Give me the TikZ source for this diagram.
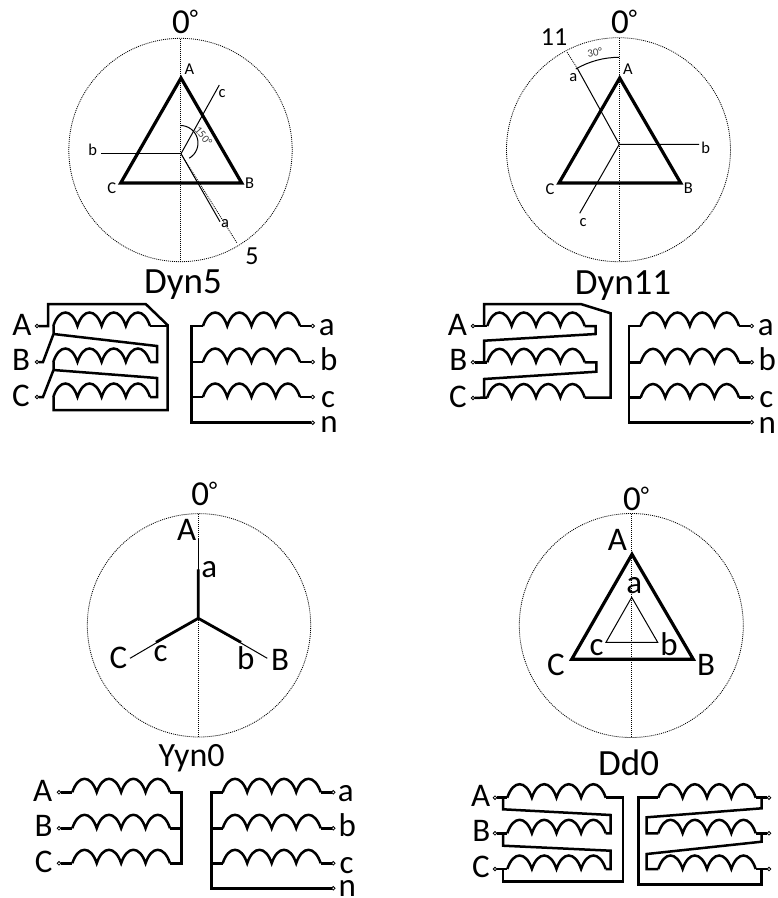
\documentclass[tikz,border=0pt]{standalone}
\usepackage{fontspec}
\setmainfont{Carlito}
\newcommand{\degz}{0\raisebox{7pt}{\fontsize{24}{24}\selectfont°}}
\tikzset{
  x=1pt,y=-1pt,
  lab/.style={anchor=base,inner sep=0pt,outer sep=0pt},
  big/.style={lab,font=\fontsize{33}{34}\selectfont},
  ttl/.style={lab,font=\fontsize{37}{38}\selectfont},
  ttlb/.style={lab,font=\fontsize{34}{36}\selectfont},
  zer/.style={lab,font=\fontsize{35}{36}\selectfont},
  num/.style={lab,font=\fontsize{26}{28}\selectfont},
  sml/.style={lab,font=\fontsize{16.5}{18}\selectfont},
  tin/.style={lab,font=\fontsize{11}{12}\selectfont,text=black!75},
  term/.style={circle,draw=black,fill=white,line width=0.8pt,minimum size=3.6pt,inner sep=0pt,outer sep=0pt},
  wire/.style={line width=2.5pt,line join=miter,line cap=butt},
  coilw/.style={line width=2.5pt,line join=miter},
  dots/.style={line width=0.8pt,dash pattern=on 1pt off 1pt,draw=black},
  thin1/.style={line width=1pt,draw=black},
  thick3/.style={line width=3.2pt,line join=miter},
  thick2/.style={line width=2.8pt,line cap=butt}
}
\newcommand{\coil}[3]{%
  \pgfmathsetmacro{\cw}{(#2-#1)/4}%
  \pgfmathsetmacro{\cxa}{#1}\pgfmathsetmacro{\cxb}{#1+\cw}\pgfmathsetmacro{\cxc}{#1+2*\cw}\pgfmathsetmacro{\cxd}{#1+3*\cw}\pgfmathsetmacro{\cxe}{#2}%
  \pgfmathsetmacro{\ct}{#3-18}%
  \draw[coilw] (\cxa,#3)
   .. controls (\cxa+0.24*\cw,\ct) and (\cxb-0.24*\cw,\ct) .. (\cxb,#3)
   .. controls (\cxb+0.24*\cw,\ct) and (\cxc-0.24*\cw,\ct) .. (\cxc,#3)
   .. controls (\cxc+0.24*\cw,\ct) and (\cxd-0.24*\cw,\ct) .. (\cxd,#3)
   .. controls (\cxd+0.24*\cw,\ct) and (\cxe-0.24*\cw,\ct) .. (\cxe,#3);%
}
\begin{document}
\begin{tikzpicture}
\useasboundingbox (0,0) rectangle (778,898);
% ===== Dyn5 phasor
\coordinate (c1) at (180.5,150);
\draw[dots] (c1) circle[radius=111.7pt];
\coordinate (c1t) at (180.5,38.5); \coordinate (c1b) at (180.5,261);
\draw[dots] (c1t) -- (c1b);
\coordinate (t1A) at (181,78); \coordinate (t1B) at (241.7,183); \coordinate (t1C) at (120.7,183);
\draw[thick3] (t1A) -- (t1B) -- (t1C) -- cycle;
\coordinate (o1) at (181,153.7);
\coordinate (o1a) at (220,221.7); \coordinate (o1b) at (101,153.7); \coordinate (o1c) at (219.3,85); \coordinate (o1five) at (237,243);
\draw[thin1] (o1a) -- (o1) -- (o1c); \draw[thin1] (o1) -- (o1b);
\draw[dots] (o1) -- (o1five);
\draw[thin1] (180.5,125.5) .. controls (188.4,125.5) and (195.35,130.85) .. (197.4,138.5)
  .. controls (199.45,146.15) and (196.1,154.2) .. (189.25,158.2);
\node[tin,anchor=center,rotate=-50] (ang1) at (203.5,136) {150°};
\node[zer] (z1) at (185,33.5) {\degz};
\node[sml] (l1A) at (189.5,74.5) {A};
\node[sml] (l1B) at (249.7,188) {B};
\node[sml] (l1C) at (111.7,193.5) {C};
\node[sml] (l1a) at (225,227) {a};
\node[sml] (l1b) at (92.7,155) {b};
\node[sml] (l1c) at (222,97.5) {c};
\node[num] (n5) at (252,264.5) {5};
% ===== Dyn5 windings
\node[ttl] (T1) at (183,293.5) {Dyn5};
\node[term] (a1) at (37,326) {}; \node[term] (b1) at (37,362) {}; \node[term] (c1w) at (37,397) {};
\node[term] (x1a) at (312.7,326) {}; \node[term] (x1b) at (312.7,362) {}; \node[term] (x1c) at (312.7,397) {}; \node[term] (x1n) at (312.7,422.7) {};
\coil{53.3}{150}{326}\coil{53.3}{150}{362}\coil{53.3}{150}{397}
\coil{203}{300}{326}\coil{203}{300}{362}\coil{203}{300}{397}
\draw[wire] (a1) -- (48,326) -- (48,304) -- (145.7,304) -- (167.5,325) -- (167.5,410) -- (53.5,410) -- (53.5,397);
\draw[wire] (150,326) -- (167.5,326);
\draw[wire] (53.5,326) -- (53.5,334) -- (157,346) -- (157,362) -- (150,362);
\draw[wire] (b1) -- (43,362) -- (53.5,334);
\draw[wire] (53.5,362) -- (53.5,370) -- (157,378) -- (157,397) -- (150,397);
\draw[wire] (c1w) -- (43,397) -- (53.5,370);
\draw[wire] (x1n) -- (191.7,422.7) -- (191.7,326) -- (203,326);
\draw[wire] (191.7,362) -- (203,362); \draw[wire] (191.7,397) -- (203,397);
\draw[wire] (300,326) -- (x1a); \draw[wire] (300,362) -- (x1b); \draw[wire] (300,397) -- (x1c);
\node[big] (w1A) at (22,335.7) {A}; \node[big] (w1B) at (21,370) {B}; \node[big] (w1C) at (21,406.7) {C};
\node[big] (w1a) at (326.7,335.7) {a}; \node[big] (w1b) at (328.7,370) {b}; \node[big] (w1c) at (328,407) {c}; \node[big] (w1n) at (329,432.3) {n};
% ===== Dyn11 phasor
\coordinate (c2) at (618.5,149.7);
\draw[dots] (c2) circle[radius=112pt];
\coordinate (c2t) at (619,38); \coordinate (c2b) at (619,261);
\draw[dots] (c2t) -- (c2b);
\coordinate (t2A) at (619.7,78); \coordinate (t2B) at (680.7,183); \coordinate (t2C) at (559,183);
\draw[thick3] (t2A) -- (t2B) -- (t2C) -- cycle;
\coordinate (o2) at (619.3,144.3);
\coordinate (o2a) at (577.3,68.3); \coordinate (o2b) at (699,144.3); \coordinate (o2c) at (579.7,213.3); \coordinate (o2e) at (566.7,51.7);
\draw[thin1] (o2a) -- (o2) -- (o2b); \draw[thin1] (o2) -- (o2c);
\draw[dots] (o2a) -- (o2e);
\draw[thin1] (619,57.3) .. controls (604,57.3) and (589,61.35) .. (575.8,69);
\node[tin,anchor=center,rotate=10] (ang2) at (594.7,52.3) {30°};
\node[zer] (z2) at (624,33.5) {\degz};
\node[num] (n11) at (554,45.7) {11};
\node[sml] (l2A) at (628,74.5) {A};
\node[sml] (l2B) at (688.3,193.5) {B};
\node[sml] (l2C) at (550,194) {C};
\node[sml] (l2a) at (573.3,81) {a};
\node[sml] (l2b) at (705.7,153) {b};
\node[sml] (l2c) at (583,226) {c};
% ===== Dyn11 windings
\node[ttl] (T2) at (623,294) {Dyn11};
\node[term] (a2) at (473,326) {}; \node[term] (b2) at (473,362.3) {}; \node[term] (c2w) at (473,398) {};
\node[term] (x2a) at (751.7,326) {}; \node[term] (x2b) at (751.7,362.3) {}; \node[term] (x2c) at (751.7,397.5) {}; \node[term] (x2n) at (751.7,422.3) {};
\coil{487.3}{584.7}{326}\coil{487.3}{584.7}{362.3}\coil{487.3}{584.7}{397.5}
\coil{640.7}{739}{326}\coil{640.7}{739}{362.3}\coil{640.7}{739}{397.5}
\draw[wire] (a2) -- (487.3,326);
\draw[wire] (484,326) -- (484,304) -- (580.7,304) -- (610.7,313.3) -- (610.7,397.5) -- (584.7,397.5);
\draw[wire] (584.7,326) -- (595.7,326) -- (595.7,334) -- (484,340.7) -- (484,362.3);
\draw[wire] (b2) -- (487.3,362.3);
\draw[wire] (584.7,362.3) -- (596.3,362.3) -- (596.3,371.7) -- (484,379) -- (484,397.5);
\draw[wire] (c2w) -- (487.3,397.5);
\draw[wire] (x2n) -- (629,422.3) -- (629,326) -- (640.7,326);
\draw[wire] (629,362.3) -- (640.7,362.3); \draw[wire] (629,397.5) -- (640.7,397.5);
\draw[wire] (739,326) -- (x2a); \draw[wire] (739,362.3) -- (x2b); \draw[wire] (739,397.5) -- (x2c);
\node[big] (w2A) at (457.3,335.7) {A}; \node[big] (w2B) at (458.3,370) {B}; \node[big] (w2C) at (458,407) {C};
\node[big] (w2a) at (765.7,335.7) {a}; \node[big] (w2b) at (767.3,370) {b}; \node[big] (w2c) at (766.3,407) {c}; \node[big] (w2n) at (767.3,433.3) {n};
% ===== Yyn0 phasor
\coordinate (c3) at (199,625.3);
\draw[dots] (c3) circle[radius=111.7pt];
\coordinate (c3t) at (198.3,514); \coordinate (c3b) at (198.3,737);
\draw[dots] (c3t) -- (c3b);
\coordinate (o3) at (198.3,618.3);
\coordinate (o3A) at (198.3,539); \coordinate (o3a) at (198.3,569.3);
\coordinate (o3C) at (130,658.3); \coordinate (o3c) at (156,642.3);
\coordinate (o3B) at (267.3,658.3); \coordinate (o3b) at (241,642.3);
\draw[thin1] (o3) -- (o3A); \draw[thin1] (o3) -- (o3B); \draw[thin1] (o3) -- (o3C);
\draw[thick2] (o3a) -- (o3) -- (o3b); \draw[thick2] (o3) -- (o3c);
\node[zer] (z3) at (204.3,505.7) {\degz};
\node[big] (l3A) at (186.7,540.7) {A};
\node[big] (l3B) at (280,670) {B};
\node[big] (l3C) at (118.3,668.3) {C};
\node[big] (l3a) at (209.3,577.3) {a};
\node[big] (l3b) at (245.7,669) {b};
\node[big] (l3c) at (160.7,661.7) {c};
% ===== Yyn0 windings
\node[ttlb] (T3) at (191.7,766) {Yyn0};
\node[term] (a3) at (59,792.3) {}; \node[term] (b3) at (59,828.3) {}; \node[term] (c3w) at (59,863.3) {};
\node[term] (x3a) at (333.3,792.3) {}; \node[term] (x3b) at (333.3,828.3) {}; \node[term] (x3c) at (333.3,863.3) {}; \node[term] (x3n) at (333.3,888.3) {};
\coil{72.3}{170}{792.3}\coil{72.3}{170}{828.3}\coil{72.3}{170}{863.3}
\coil{222.7}{320.7}{792.3}\coil{222.7}{320.7}{828.3}\coil{222.7}{320.7}{863.3}
\draw[wire] (a3) -- (72.3,792.3); \draw[wire] (b3) -- (72.3,828.3); \draw[wire] (c3w) -- (72.3,863.3);
\draw[wire] (170,792.3) -- (181.7,792.3) -- (181.7,863.3) -- (170,863.3);
\draw[wire] (170,828.3) -- (181.7,828.3);
\draw[wire] (x3n) -- (211.7,888.3) -- (211.7,792.3) -- (222.7,792.3);
\draw[wire] (211.7,828.3) -- (222.7,828.3); \draw[wire] (211.7,863.3) -- (222.7,863.3);
\draw[wire] (320.7,792.3) -- (x3a); \draw[wire] (320.7,828.3) -- (x3b); \draw[wire] (320.7,863.3) -- (x3c);
\node[big] (w3A) at (42.7,801.7) {A}; \node[big] (w3B) at (43.7,836.7) {B}; \node[big] (w3C) at (43.7,872.7) {C};
\node[big] (w3a) at (345.7,801.7) {a}; \node[big] (w3b) at (347.3,836.7) {b}; \node[big] (w3c) at (346.7,873.3) {c}; \node[big] (w3n) at (347.3,896.5) {n};
% ===== Dd0 phasor
\coordinate (c4) at (631.3,625.5);
\draw[dots] (c4) circle[radius=112pt];
\coordinate (c4t) at (631.7,514); \coordinate (c4b) at (631.7,737);
\draw[dots] (c4t) -- (c4b);
\coordinate (t4A) at (632,554.3); \coordinate (t4B) at (693.3,659.3); \coordinate (t4C) at (571.7,659.3);
\draw[thick3] (t4A) -- (t4B) -- (t4C) -- cycle;
\coordinate (i4a) at (631.7,597.3); \coordinate (i4b) at (657.7,642.3); \coordinate (i4c) at (606,642.3);
\draw[thin1] (i4a) -- (i4b) -- (i4c) -- cycle;
\node[zer] (z4) at (636,510) {\degz};
\node[big] (l4A) at (617.3,550) {A};
\node[big] (l4B) at (706,675.7) {B};
\node[big] (l4C) at (556,675.7) {C};
\node[big] (l4a) at (634.3,593.3) {a};
\node[big] (l4b) at (669,655) {b};
\node[big] (l4c) at (596.7,655) {c};
% ===== Dd0 windings
\node[ttl] (T4) at (628.7,775.7) {Dd0};
\node[term] (a4) at (495,797.7) {}; \node[term] (b4) at (495,833.3) {}; \node[term] (c4w) at (495,869) {};
\node[term] (x4a) at (769,797.7) {}; \node[term] (x4b) at (769,833.3) {}; \node[term] (x4c) at (769,869) {};
\coil{507.3}{605.7}{797.7}\coil{507.3}{605.7}{833.3}\coil{507.3}{605.7}{869}
\coil{658.3}{755.7}{797.7}\coil{658.3}{755.7}{833.3}\coil{658.3}{755.7}{869}
\draw[wire] (a4) -- (507.3,797.7); \draw[wire] (b4) -- (507.3,833.3); \draw[wire] (c4w) -- (507.3,869);
\draw[wire] (503,797.7) -- (503,809.3) -- (610.7,815) -- (610.7,833.3) -- (605.7,833.3);
\draw[wire] (503,833.3) -- (503,845.7) -- (610.7,850.7) -- (610.7,869) -- (605.7,869);
\draw[wire] (605.7,797.7) -- (623,797.7) -- (623,881.7) -- (503,881.7) -- (503,869);
\draw[wire] (755.7,797.7) -- (x4a); \draw[wire] (755.7,833.3) -- (x4b); \draw[wire] (755.7,869) -- (x4c);
\draw[wire] (761.7,797.7) -- (761.7,808.3) -- (646.7,817.3) -- (646.7,833.3) -- (658.3,833.3);
\draw[wire] (761.7,833.3) -- (761.7,841.7) -- (646.7,854) -- (646.7,869) -- (658.3,869);
\draw[wire] (658.3,797.7) -- (638.3,797.7) -- (638.3,884.3) -- (761.7,884.3) -- (761.7,869);
\node[big] (w4A) at (480.7,806) {A}; \node[big] (w4B) at (481.3,841) {B}; \node[big] (w4C) at (481,877.7) {C};
\end{tikzpicture}
\end{document}
